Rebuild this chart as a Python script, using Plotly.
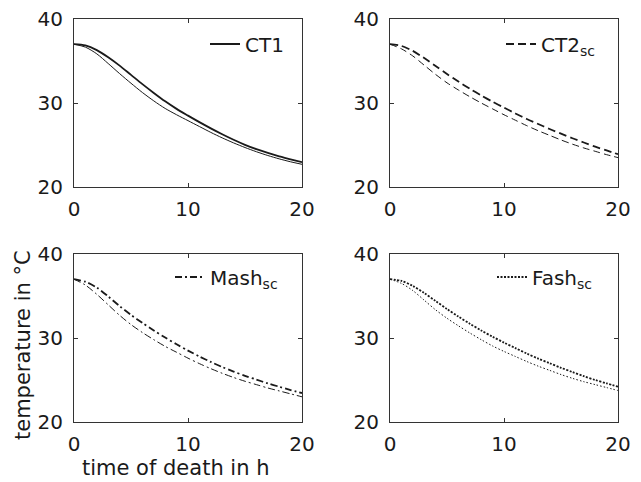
import plotly.graph_objects as go

# time after death (h)
hours = list(range(0, 21))

# cooling curves (°C), two model variants per panel
ct1_a = [37.0, 36.85, 36.3, 35.45, 34.45, 33.35, 32.25, 31.2, 30.2, 29.3, 28.5,
         27.72, 26.98, 26.28, 25.62, 25.02, 24.5, 24.05, 23.65, 23.3, 22.95]
ct1_b = [37.0, 36.65, 35.85, 34.7, 33.5, 32.35, 31.25, 30.25, 29.35, 28.6, 27.9,
         27.2, 26.5, 25.85, 25.25, 24.7, 24.2, 23.75, 23.35, 23.0, 22.7]

ct2_a = [37.0, 36.8, 36.2, 35.35, 34.4, 33.45, 32.55, 31.7, 30.9, 30.15, 29.45,
         28.75, 28.1, 27.5, 26.9, 26.35, 25.8, 25.3, 24.8, 24.35, 23.9]
ct2_b = [37.0, 36.45, 35.6, 34.5, 33.4, 32.4, 31.55, 30.75, 30.0, 29.3, 28.6,
         27.95, 27.3, 26.7, 26.15, 25.6, 25.1, 24.65, 24.25, 23.85, 23.5]

mash_a = [37.0, 36.7, 36.0, 34.95, 33.8, 32.75, 31.8, 30.9, 30.05, 29.25, 28.5,
          27.8, 27.15, 26.55, 26.0, 25.5, 25.05, 24.6, 24.2, 23.8, 23.45]
mash_b = [37.0, 36.3, 35.2, 33.95, 32.7, 31.6, 30.65, 29.8, 29.0, 28.3, 27.6,
          26.95, 26.35, 25.8, 25.3, 24.85, 24.45, 24.05, 23.7, 23.35, 23.0]

fash_a = [37.0, 36.8, 36.2, 35.35, 34.4, 33.45, 32.55, 31.7, 30.9, 30.15, 29.45,
          28.8, 28.15, 27.55, 27.0, 26.45, 25.95, 25.45, 25.0, 24.6, 24.2]
fash_b = [37.0, 36.5, 35.65, 34.5, 33.35, 32.35, 31.45, 30.6, 29.8, 29.05, 28.4,
          27.8, 27.2, 26.65, 26.15, 25.65, 25.2, 24.8, 24.45, 24.1, 23.75]

x_ticks = [0, 10, 20]
y_ticks = [20, 30, 40]

names = ["CT1", "CT2<sub>sc</sub>", "Mash<sub>sc</sub>", "Fash<sub>sc</sub>"]
series = [(ct1_a, ct1_b), (ct2_a, ct2_b), (mash_a, mash_b), (fash_a, fash_b)]
dash_thick = ["solid", "8px,4px", "7px,3px,2px,3px", "2px,1.5px"]
dash_thin = ["solid", "7px,4px", "7px,3px,2px,3px", "1.5px,2px"]

W, H = 641, 482
INK = "#1a1a1a"
FONT = "DejaVu Sans, Liberation Sans, sans-serif"

# panel boxes in pixels: (left, right, top, bottom)
boxes = [(74, 302, 19, 187), (390, 618, 19, 187),
         (74, 302, 254, 422), (390, 618, 254, 422)]
# legend anchor (left of sample line, vertical centre of the entry)
legend_pos = [(205, 44), (501, 44), (170, 277), (492, 277)]

fig = go.Figure()
layout = dict(
    width=W, height=H, margin=dict(l=0, r=0, t=0, b=0),
    paper_bgcolor="white", plot_bgcolor="white",
    font=dict(family=FONT, size=20, color=INK),
    showlegend=True,
)

for i, (a, b) in enumerate(series):
    n = "" if i == 0 else str(i + 1)
    leg = "legend" + n
    fig.add_trace(go.Scatter(
        x=hours, y=b, mode="lines", xaxis="x" + n, yaxis="y" + n,
        line=dict(color=INK, width=1, dash=dash_thin[i], shape="spline", smoothing=0.8),
        showlegend=False, legend=leg))
    fig.add_trace(go.Scatter(
        x=hours, y=a, mode="lines", xaxis="x" + n, yaxis="y" + n,
        name=names[i],
        line=dict(color=INK, width=1.8, dash=dash_thick[i], shape="spline", smoothing=0.8),
        showlegend=True, legend=leg))

    l, r, t, btm = boxes[i]
    common = dict(showgrid=False, zeroline=False, showline=True, mirror="ticks",
                  linecolor="#333", linewidth=1, ticks="inside", ticklen=4,
                  tickcolor="#333", tickfont=dict(family=FONT, size=20, color=INK),
                  automargin=False)
    layout["xaxis" + n] = dict(common, domain=[l / W, r / W], range=[0, 20],
                               tickvals=x_ticks, anchor="y" + n, ticklabelstandoff=4)
    layout["yaxis" + n] = dict(common, domain=[1 - btm / H, 1 - t / H], range=[20, 40],
                               tickvals=y_ticks, anchor="x" + n, ticklabelstandoff=6)
    lx, ly = legend_pos[i]
    layout[leg] = dict(x=lx / W, y=1 - ly / H, xanchor="left", yanchor="middle",
                       bgcolor="rgba(0,0,0,0)", borderwidth=0, itemwidth=30,
                       font=dict(family=FONT, size=20, color=INK))

layout["annotations"] = [
    dict(text="time of death in h", x=176 / W, y=1 - 468 / H, xref="paper", yref="paper",
         showarrow=False, font=dict(family=FONT, size=21, color=INK),
         xanchor="center", yanchor="middle"),
    dict(text="temperature in °C", x=23 / W, y=1 - 345 / H, xref="paper", yref="paper",
         showarrow=False, textangle=-90, font=dict(family=FONT, size=21, color=INK),
         xanchor="center", yanchor="middle"),
]

fig.update_layout(**layout)
fig.write_html("out.html")
